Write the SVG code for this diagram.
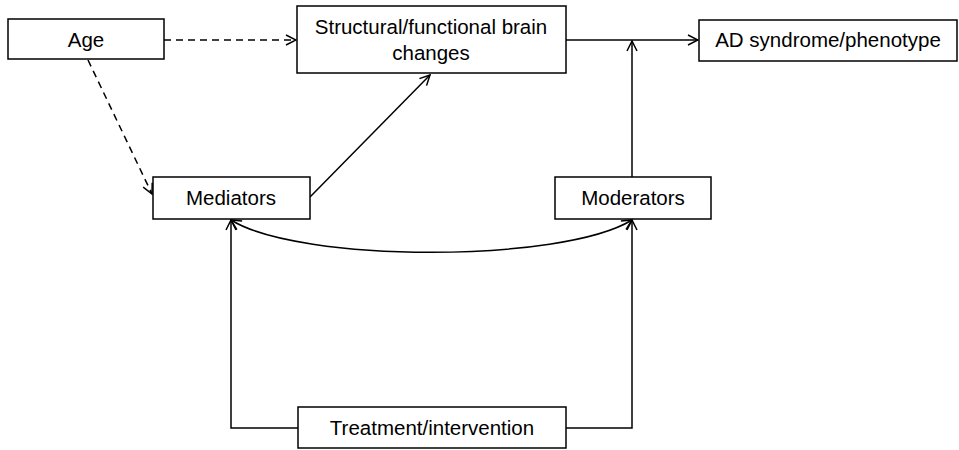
<svg xmlns="http://www.w3.org/2000/svg" width="959" height="450" viewBox="0 0 959 450">
<defs>
<marker id="arr" viewBox="0 0 12 12" refX="11" refY="6" markerWidth="12" markerHeight="12" markerUnits="userSpaceOnUse" orient="auto-start-reverse">
<path d="M1,1 L11,6 L1,11" fill="none" stroke="#000" stroke-width="1.5"/>
</marker>
</defs>
<style>
.box{fill:#fff;stroke:#000;stroke-width:1.5}
.lbl{font-family:"Liberation Sans","Open Sans",sans-serif;font-size:20.5px;fill:#000;text-anchor:middle}
.c{fill:none;stroke:#000;stroke-width:1.5}
.d{stroke-dasharray:7,5}
</style>
<rect width="959" height="450" fill="#fff"/>
<g id="connectors">
<line class="c d" x1="164" y1="40" x2="296" y2="40" marker-end="url(#arr)"/>
<line class="c d" x1="88" y1="60" x2="152" y2="194" marker-end="url(#arr)"/>
<line class="c" x1="310" y1="197" x2="430" y2="75" marker-end="url(#arr)"/>
<line class="c" x1="566" y1="40" x2="698" y2="40" marker-end="url(#arr)"/>
<line class="c" x1="632" y1="177" x2="632" y2="41" marker-end="url(#arr)"/>
<path class="c" d="M231,220 C300,263 562,263 632,220" marker-start="url(#arr)" marker-end="url(#arr)"/>
<polyline class="c" points="298,428 231,428 231,220" marker-end="url(#arr)"/>
<polyline class="c" points="566,428 632,428 632,220" marker-end="url(#arr)"/>
</g>
<g id="age"><rect class="box" x="8" y="19" width="156" height="40"/><text class="lbl" x="86" y="47">Age</text></g>
<g id="brain"><rect class="box" x="297" y="6" width="269" height="67"/><text class="lbl" x="431" y="34">Structural/functional brain</text><text class="lbl" x="431" y="60">changes</text></g>
<g id="ad"><rect class="box" x="699" y="20" width="258" height="41"/><text class="lbl" x="828" y="47">AD syndrome/phenotype</text></g>
<g id="mediators"><rect class="box" x="153" y="177" width="157" height="42"/><text class="lbl" x="231" y="205">Mediators</text></g>
<g id="moderators"><rect class="box" x="555" y="177" width="156" height="42"/><text class="lbl" x="633" y="205">Moderators</text></g>
<g id="treatment"><rect class="box" x="298" y="407" width="268" height="41"/><text class="lbl" x="432" y="435">Treatment/intervention</text></g>
</svg>
